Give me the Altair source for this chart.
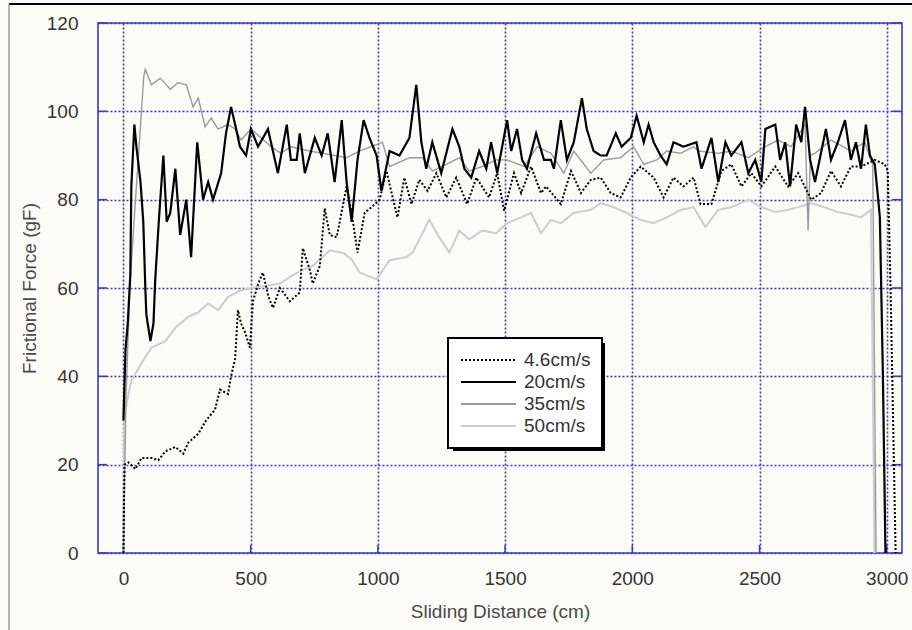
import altair as alt
import pandas as pd

# ---------------- data ----------------
series_names = ["4.6cm/s", "20cm/s", "35cm/s", "50cm/s"]

x_46 = [0, 2, 4, 20, 47, 71, 110, 137, 165, 204, 235, 255, 294, 325, 360, 380, 411, 423, 439, 450,
        462, 478, 497, 509, 530, 548, 570, 588, 615, 654, 693, 705, 733, 744, 772, 791, 811, 838,
        862, 877, 897, 920, 948, 979, 1007, 1034, 1054, 1077, 1104, 1132, 1163, 1195, 1230, 1269,
        1308, 1351, 1387, 1437, 1469, 1496, 1535, 1563, 1602, 1641, 1661, 1719, 1759, 1798, 1837,
        1876, 1915, 1954, 1994, 2033, 2084, 2123, 2162, 2201, 2241, 2268, 2311, 2350, 2389, 2429,
        2468, 2507, 2562, 2612, 2652, 2703, 2742, 2781, 2820, 2859, 2899, 2953, 2992, 3004, 3015,
        3025, 3035]
y_46 = [0, 10, 20, 20.5, 19, 21.5, 21.5, 21, 23, 24, 22.5, 25, 27, 30, 32.5, 37, 36, 40, 44, 55,
        52, 50, 46.5, 57, 61, 63.5, 58, 55.5, 60, 57, 59, 69, 64, 61, 65, 78, 72, 71.5,
        78.5, 83, 77, 68, 77, 78.5, 80, 86.5, 81.5, 76, 85, 79, 84.5, 82, 86, 80.5,
        85, 79, 85, 80.5, 86, 77.5, 86, 81.5, 87.5, 81.5, 83, 79, 86.5, 81.5, 84.5,
        85, 81.5, 80.5, 85, 87.5, 85, 80.5, 85, 83, 85, 79, 79, 86.5, 88, 83,
        86, 83, 87.5, 83, 86, 80, 81.5, 86.5, 83, 87.5, 87.5, 89, 88, 86.5, 60,
        30, 0]

x_20 = [0, 5, 8, 17, 27, 31, 43, 51, 67, 78, 86, 90, 106, 118, 125, 140, 157, 170, 184, 204, 223,
        247, 266, 290, 313, 333, 352, 384, 403, 423, 443, 458, 482, 501, 529, 568, 607, 642, 658,
        681, 693, 713, 752, 779, 803, 830, 858, 877, 897, 920, 944, 967, 995, 1014, 1046, 1085,
        1124, 1151, 1171, 1190, 1214, 1249, 1293, 1320, 1340, 1367, 1398, 1426, 1445, 1469, 1508,
        1524, 1547, 1567, 1586, 1622, 1653, 1680, 1692, 1719, 1743, 1770, 1802, 1821, 1848, 1876,
        1899, 1935, 1958, 1994, 2017, 2045, 2064, 2084, 2111, 2135, 2162, 2201, 2252, 2272, 2311,
        2338, 2366, 2389, 2429, 2456, 2483, 2507, 2523, 2562, 2581, 2601, 2620, 2644, 2664, 2679,
        2699, 2718, 2761, 2781, 2808, 2836, 2859, 2879, 2899, 2918, 2934, 2953, 2965, 2973, 2985,
        2995]
y_20 = [30, 40, 46, 52, 63, 83, 97, 92, 84, 75, 60, 54, 48, 52, 62, 76, 90, 75, 77, 87, 72,
        80, 67, 93, 80, 84, 80, 86, 95, 101, 96, 92, 90, 96, 92, 96, 86, 97, 89,
        89, 95, 86, 94, 90, 95, 84, 98, 84, 75, 89, 98, 94, 90, 82, 91, 90,
        94, 106, 93, 87, 93, 86, 96, 92, 87, 85, 91, 87, 93, 86, 98,
        91, 96, 89, 87, 95, 89, 89, 87, 98, 89, 93, 103, 96, 91, 90,
        90, 95, 92, 94, 99, 93, 97, 93, 90, 88, 93, 92, 93, 87, 94,
        84, 93, 90, 93, 86, 89, 84, 96, 97, 89, 93, 83, 97, 93, 101,
        89, 84, 96, 89, 93, 98, 89, 93, 87, 97, 90, 88, 81, 76, 40,
        0]

x_35 = [0, 10, 25, 45, 65, 80, 86, 110, 145, 184, 215, 247, 274, 294, 321, 345, 372, 411, 439, 462,
        501, 541, 580, 619, 658, 732, 783, 877, 928, 1018, 1046, 1124, 1175, 1214, 1269, 1320, 1359,
        1410, 1465, 1508, 1575, 1626, 1680, 1731, 1770, 1837, 1888, 1954, 2005, 2045, 2096, 2135,
        2190, 2241, 2260, 2338, 2389, 2456, 2523, 2573, 2624, 2679, 2691, 2700, 2718, 2781, 2859,
        2914, 2934, 2945, 2958]
y_35 = [0, 35, 60, 78, 95, 108, 109.5, 106, 107.5, 105, 106.5, 106, 101, 103, 96.5, 98.5, 96, 97, 96, 93.5,
        96, 94, 92, 90.5, 92, 91, 90.5, 89.5, 91, 93, 87.5, 89.5, 89.5, 86.5, 88, 89.5, 86.5,
        87.5, 89, 89, 87.5, 92, 90.5, 86, 91, 86, 89, 89.5, 92, 88, 89, 91,
        90.5, 92, 91, 90.5, 91, 89.5, 92, 93.5, 92, 97, 73, 90, 90.5, 93.5, 91,
        93, 89.5, 88, 0]

x_50 = [0, 3, 20, 31, 71, 110, 165, 204, 255, 294, 333, 372, 411, 462, 501, 560, 615, 654, 700, 744,
        811, 862, 897, 928, 995, 1046, 1112, 1136, 1163, 1202, 1241, 1281, 1320, 1359, 1410, 1465,
        1508, 1563, 1602, 1641, 1680, 1719, 1770, 1837, 1876, 1927, 1978, 2033, 2084, 2135, 2190,
        2241, 2287, 2338, 2389, 2456, 2507, 2562, 2612, 2652, 2703, 2755, 2808, 2859, 2899, 2938,
        2945, 2952]
y_50 = [0, 31, 36, 39, 43, 46.5, 48, 51, 53.5, 54.5, 56.5, 55, 58, 59.5, 60, 60.5, 61, 62.5, 64, 65,
        68.5, 68, 66.5, 63.5, 62, 66.3, 67, 68, 71, 75.5, 71.5, 68, 73, 71, 73, 72.4,
        74.7, 76, 77, 72.4, 75.4, 74.7, 77, 77.7, 79.2, 78.3, 77, 75.4, 74.7, 76, 77.7,
        78.3, 73.8, 77.7, 78.3, 80, 78.3, 77.2, 77.7, 78.3, 79.2, 78.3, 77.2, 76.6, 76, 77.7,
        40, 0]

x_ticks = [0, 500, 1000, 1500, 2000, 2500, 3000]
y_ticks = [0, 20, 40, 60, 80, 100, 120]

series_colors = ["#000000", "#000000", "#9a9a9a", "#cdcdcd"]
series_dashes = [[2, 2], [1, 0], [1, 0], [1, 0]]

# ---------------- build tables ----------------
frames = []
for name, xs, ys in [("4.6cm/s", x_46, y_46), ("20cm/s", x_20, y_20),
                     ("35cm/s", x_35, y_35), ("50cm/s", x_50, y_50)]:
    frames.append(pd.DataFrame({"distance": xs, "force": ys, "series": name, "order": range(len(xs))}))
data = pd.concat(frames, ignore_index=True)

FONT = "Liberation Sans"
BLUE = "#3a3ac4"
PW, PH = 804, 530

x_scale = alt.Scale(domain=[-100, 3060], nice=False, zero=False)
y_scale = alt.Scale(domain=[0, 120], nice=False, zero=True)

x_axis = alt.Axis(values=x_ticks, format="d", title="Sliding Distance (cm)", labelPadding=16,
                  titleX=PW / 2, titleY=64, titleBaseline="alphabetic", titleAlign="center")
y_axis = alt.Axis(values=y_ticks, format="d", title="Frictional Force (gF)", labelPadding=20,
                  titleX=-63, titleY=PH / 2, titleBaseline="alphabetic", titleAlign="center")

color_enc = alt.Color("series:N", scale=alt.Scale(domain=series_names, range=series_colors),
                      legend=alt.Legend(title=None))
dash_enc = alt.StrokeDash("series:N", scale=alt.Scale(domain=series_names, range=series_dashes),
                          legend=alt.Legend(title=None))


def series_layer(name, width):
    return alt.Chart(data).transform_filter(alt.datum.series == name).mark_line(
        strokeWidth=width, clip=True
    ).encode(
        x=alt.X("distance:Q", scale=x_scale, axis=x_axis),
        y=alt.Y("force:Q", scale=y_scale, axis=y_axis),
        color=color_enc,
        strokeDash=dash_enc,
        order="order:Q",
    )


layers = [
    series_layer("50cm/s", 2.0),
    series_layer("35cm/s", 1.4),
    series_layer("4.6cm/s", 2.0),
    series_layer("20cm/s", 2.2),
]

# inward tick marks on the frame
ytick_df = pd.DataFrame({"v": y_ticks})
xtick_df = pd.DataFrame({"v": x_ticks})
left_ticks = alt.Chart(ytick_df).mark_rule(color=BLUE, strokeWidth=1.5).encode(
    y=alt.Y("v:Q", scale=y_scale, axis=y_axis), x=alt.value(0), x2=alt.value(9))
right_ticks = alt.Chart(ytick_df).mark_rule(color=BLUE, strokeWidth=1.5).encode(
    y=alt.Y("v:Q", scale=y_scale, axis=y_axis), x=alt.value(PW - 10), x2=alt.value(PW))
bottom_ticks = alt.Chart(xtick_df).mark_rule(color=BLUE, strokeWidth=1.5).encode(
    x=alt.X("v:Q", scale=x_scale, axis=x_axis), y=alt.value(PH - 8), y2=alt.value(PH))

one = pd.DataFrame({"d": [0]})
# legend drop shadow
shadow = alt.Chart(one).mark_rect(color="#000000").encode(
    x=alt.value(355), x2=alt.value(507), y=alt.value(320), y2=alt.value(428))
# outer picture border (top black, left grey)
top_border = alt.Chart(one).mark_rule(color="#000000", strokeWidth=2).encode(
    x=alt.value(-89), x2=alt.value(PW + 20), y=alt.value(-19))
left_border = alt.Chart(one).mark_rule(color="#9a9a9a", strokeWidth=1.5).encode(
    x=alt.value(-89), y=alt.value(-19), y2=alt.value(PH + 90))

chart = alt.layer(
    left_ticks, right_ticks, bottom_ticks, *layers, shadow, top_border, left_border
).properties(
    width=PW, height=PH,
    autosize=alt.AutoSizeParams(type="none"),
    padding={"left": 98, "top": 23, "right": 10, "bottom": 77},
    background="#fcfcf6",
).configure_view(
    stroke=BLUE, strokeWidth=1.6, fill=None
).configure_axis(
    domain=False, ticks=False, grid=True, gridColor=BLUE, gridDash=[2, 2], gridWidth=1.6,
    labelFont=FONT, labelFontSize=19, labelColor="#333333",
    titleFont=FONT, titleFontSize=19, titleColor="#4a4a4a", titleFontWeight="normal",
).configure_legend(
    orient="none", legendX=350, legendY=315, padding=11,
    symbolType="stroke", symbolSize=3025, symbolStrokeWidth=2, symbolOffset=1,
    labelOffset=7, labelFont=FONT, labelFontSize=19, labelColor="#333333",
    clipHeight=22, rowPadding=0,
    strokeColor="#000000", strokeWidth=2, fillColor="#ffffff", cornerRadius=0,
)

chart.save("out.html", embed_options={"renderer": "svg", "actions": False})
